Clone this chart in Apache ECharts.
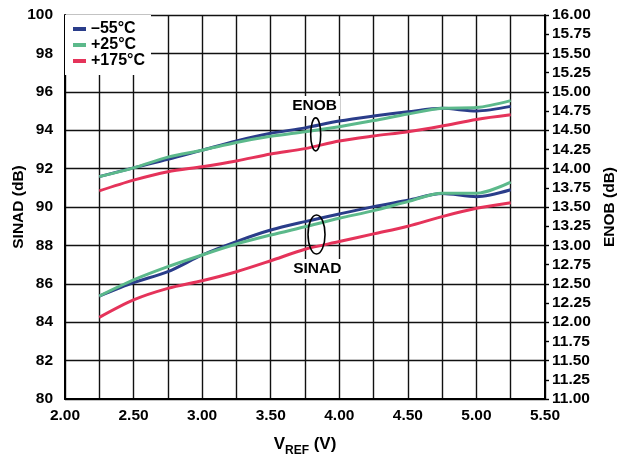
<!DOCTYPE html>
<html><head><meta charset="utf-8">
<script src="https://cdn.jsdelivr.net/npm/echarts@6/dist/echarts.min.js"></script>
<style>html,body{margin:0;padding:0;background:#fff}#c{width:620px;height:456px}</style>
</head><body><div id="c"></div>
<script>
const vref = [2.25, 2.50, 2.75, 3.00, 3.25, 3.50, 3.75, 4.00, 4.25, 4.50, 4.75, 5.00, 5.25];
const seriesNames = ['\u201355°C', '+25°C', '+175°C'];
const sinadM55 = [85.36, 86.06, 86.63, 87.50, 88.20, 88.80, 89.24, 89.64, 90.02, 90.35, 90.70, 90.54, 90.90];
const sinadP25 = [85.36, 86.20, 86.89, 87.50, 88.07, 88.54, 88.97, 89.41, 89.81, 90.28, 90.72, 90.72, 91.30];
const sinadP175 = [84.25, 85.16, 85.76, 86.16, 86.63, 87.20, 87.80, 88.20, 88.60, 89.00, 89.50, 89.93, 90.22];
const enobM55 = [13.895, 14.01, 14.12, 14.24, 14.36, 14.46, 14.53, 14.62, 14.685, 14.74, 14.785, 14.75, 14.81];
const enobP25 = [13.895, 14.01, 14.15, 14.24, 14.34, 14.42, 14.48, 14.545, 14.625, 14.71, 14.785, 14.795, 14.885];
const enobP175 = [13.71, 13.85, 13.96, 14.025, 14.10, 14.19, 14.26, 14.36, 14.425, 14.48, 14.555, 14.64, 14.70];
const colors = ['#2a3d8a', '#5cb98b', '#e5335a'];

const FONT = '"Liberation Sans", Arial, sans-serif';
const pairs = (ys) => vref.map((x, i) => [x, ys[i]]);
const mk = (name, data, color, yIdx, z) => ({
  name, type: 'line', data: pairs(data), yAxisIndex: yIdx, smooth: 0.3,
  showSymbol: false, symbol: 'none', z,
  lineStyle: { color, width: 3 }, itemStyle: { color }
});

const chart = echarts.init(document.getElementById('c'), null, { renderer: 'canvas' });
chart.setOption({
  animation: false,
  textStyle: { fontFamily: FONT },
  grid: { left: 65, right: 75, top: 15, bottom: 57, containLabel: false, outerBoundsMode: 'none' },
  legend: {
    left: 65, top: 15, orient: 'vertical',
    backgroundColor: '#fff', padding: [6, 6, 6, 8], itemGap: 0,
    itemWidth: 13, itemHeight: 4, icon: 'rect',
    textStyle: { fontFamily: FONT, fontWeight: 'bold', fontSize: 16, color: '#000', lineHeight: 15.5 },
    data: seriesNames
  },
  xAxis: {
    type: 'value', min: 2, max: 5.5, interval: 0.25,
    name: '{v|V}{s|REF}{v| (V)}', nameLocation: 'middle', nameGap: 35, nameMoveOverlap: false,
    nameTextStyle: { rich: {
      v: { fontFamily: FONT, fontWeight: 'bold', fontSize: 17, color: '#000', lineHeight: 20 },
      s: { fontFamily: FONT, fontWeight: 'bold', fontSize: 12, color: '#000', lineHeight: 12, verticalAlign: 'bottom', padding: [0, 0, -3, 0] }
    } },
    axisLine: { lineStyle: { color: '#000', width: 2 } },
    axisTick: { show: false },
    splitLine: { show: true, lineStyle: { color: '#111', width: 1.4 } },
    axisLabel: {
      margin: 9, color: '#000', fontWeight: 'bold', fontSize: 15.5, fontFamily: FONT,
      formatter: (v) => (Math.abs(v * 2 - Math.round(v * 2)) < 1e-6 ? v.toFixed(2) : '')
    }
  },
  yAxis: [{
    type: 'value', min: 80, max: 100, interval: 2,
    name: 'SINAD (dB)', nameLocation: 'middle', nameGap: 38, nameRotate: 90, nameMoveOverlap: false,
    nameTextStyle: { fontFamily: FONT, fontWeight: 'bold', fontSize: 15.5, color: '#000' },
    axisLine: { show: true, lineStyle: { color: '#000', width: 2 } },
    axisTick: { show: false },
    splitLine: { show: true, lineStyle: { color: '#111', width: 1.4 } },
    axisLabel: { margin: 12, color: '#000', fontWeight: 'bold', fontSize: 15.5, fontFamily: FONT }
  }, {
    type: 'value', min: 11, max: 16, interval: 0.25, position: 'right',
    name: 'ENOB (dB)', nameLocation: 'middle', nameGap: 56, nameRotate: 90,
    nameTextStyle: { fontFamily: FONT, fontWeight: 'bold', fontSize: 15.5, color: '#000' },
    axisLine: { show: true, lineStyle: { color: '#000', width: 2 } },
    axisTick: { show: true, length: 4, lineStyle: { color: '#000', width: 1.4 } },
    splitLine: { show: false },
    axisLabel: { margin: 7, color: '#000', fontWeight: 'bold', fontSize: 15.5, fontFamily: FONT,
      formatter: (v) => v.toFixed(2) }
  }],
  series: [
    mk(seriesNames[2], sinadP175, colors[2], 0, 2),
    mk(seriesNames[0], sinadM55, colors[0], 0, 3),
    mk(seriesNames[1], sinadP25, colors[1], 0, 4),
    mk(seriesNames[2], enobP175, colors[2], 1, 2),
    mk(seriesNames[0], enobM55, colors[0], 1, 3),
    mk(seriesNames[1], enobP25, colors[1], 1, 4)
  ]
});

// Annotations (data coordinates on V / SINAD scale)
const enobLabelAt = [3.82, 95.26], enobEllipseAt = [3.828, 93.78];
const sinadLabelAt = [3.84, 86.77], sinadEllipseAt = [3.834, 88.57];
const px = (p) => chart.convertToPixel({ xAxisIndex: 0, yAxisIndex: 0 }, p);
const a = px(enobLabelAt), b = px(enobEllipseAt), c = px(sinadLabelAt), d = px(sinadEllipseAt);
const txt = (p, t) => ({
  type: 'text', x: p[0], y: p[1], z: 100,
  style: { text: t, fill: '#000', font: 'bold 15.5px ' + FONT, align: 'center', verticalAlign: 'middle',
    backgroundColor: '#fff', padding: [2, 3, 2, 3] }
});
const ell = (p, rx, ry) => ({
  type: 'ellipse', z: 100, shape: { cx: p[0], cy: p[1], rx, ry },
  style: { fill: null, stroke: '#000', lineWidth: 1.6 }
});
chart.setOption({ graphic: [txt(a, 'ENOB'), ell(b, 5, 16.5), txt(c, 'SINAD'), ell(d, 8.5, 19.5)] });
</script></body></html>
